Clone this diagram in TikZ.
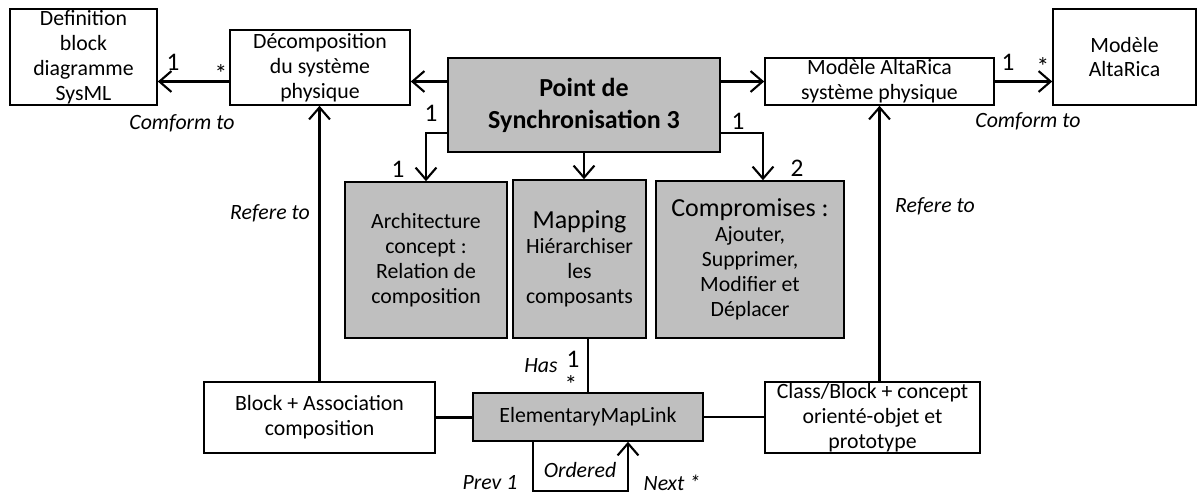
\documentclass[tikz,border=0pt]{standalone}
\usepackage{fontspec}
\setmainfont{Carlito}
\usepackage{xcolor}
\usetikzlibrary{arrows.meta,positioning,shadows}
\definecolor{boxgray}{HTML}{BFBFBF}

\begin{document}
\begin{tikzpicture}[
  x=0.025cm, y=-0.025cm,
  box/.style={rectangle, draw, line width=1.1pt, fill=white, inner sep=0pt, align=center,
    font=\fontsize{15.5}{17.7}\selectfont, drop shadow={shadow xshift=1pt, shadow yshift=-1pt, opacity=0.35}},
  gbox/.style={box, fill=boxgray},
  arrow/.style={-{Straight Barb[length=3mm, width=5.2mm]}, line width=1.5pt},
  link/.style={line width=1.5pt},
  card/.style={font=\fontsize{18}{20}\selectfont, inner sep=0pt},
  star/.style={font=\fontsize{18}{20}\selectfont, inner sep=0pt},
  role/.style={font=\itshape\fontsize{15.5}{18}\selectfont, inner sep=0pt}
]
  \useasboundingbox (0,0) rectangle (1199,495);

  % top row
  \node[box, minimum width=3.675cm, minimum height=2.4cm] (sysml) at (83.5,57) {Definition\\block\\diagramme\\SysML};
  \node[box, minimum width=4.5cm, minimum height=1.875cm] (decomp) at (320,67.5) {Décomposition\\du système\\physique};
  \node[gbox, minimum width=6.8cm, minimum height=2.35cm, font=\bfseries\fontsize{18.5}{22.7}\selectfont] (sync) at (584,105) {Point de\\Synchronisation 3};
  \node[box, minimum width=5.725cm, minimum height=1.175cm] (altaphys) at (879.5,81.5) {Modèle AltaRica\\système physique};
  \node[box, minimum width=3.575cm, minimum height=2.4cm] (altarica) at (1124.5,57) {Modèle\\AltaRica};

  % middle row
  \node[gbox, minimum width=4.05cm, minimum height=3.9cm] (archi) at (426,260) {Architecture\\concept :\\Relation de\\composition};
  \node[gbox, minimum width=3.325cm, minimum height=3.95cm] (mapping) at (579.5,259) {{\fontsize{18.5}{21}\selectfont Mapping}\\Hiérarchiser\\les\\composants};
  \node[gbox, minimum width=4.7cm, minimum height=3.925cm] (compro) at (750,259.5) {{\fontsize{18.5}{21}\selectfont Compromises :}\\Ajouter,\\Supprimer,\\Modifier et\\Déplacer};

  % bottom row
  \node[box, minimum width=5.775cm, minimum height=1.775cm] (blockassoc) at (319.5,417.5) {Block + Association\\composition};
  \node[gbox, minimum width=5.75cm, minimum height=1.2cm] (eml) at (588,417) {ElementaryMapLink};
  \node[box, minimum width=5.375cm, minimum height=1.775cm] (classblock) at (872.5,417.5) {Class/Block + concept\\orienté-objet et\\prototype};

  % connectors
  \draw[arrow] (decomp.west |- altaphys) -- (sysml.east |- altaphys);
  \draw[arrow] (sync.west |- altaphys) -- (decomp.east |- altaphys);
  \draw[arrow] (sync.east |- altaphys) -- (altaphys.west);
  \draw[arrow] (altaphys.east) -- (altarica.west |- altaphys);
  \draw[arrow] ([yshift=0.5cm]sync.south west) -| (archi.north);
  \draw[arrow] ([yshift=0.5cm]sync.south east) -| ([xshift=0.325cm]compro.north);
  \draw[arrow] (sync.south) -- (sync.south |- mapping.north);
  \draw[link] (eml.north |- mapping.south) -- (eml.north);
  \draw[link] (blockassoc.east) -- (eml.west |- blockassoc.east);
  \draw[link] (eml.east) -- (classblock.west |- eml.east);
  \draw[arrow] (blockassoc.north) -- (blockassoc.north |- decomp.south);
  \draw[arrow] (altaphys.south |- classblock.north) -- (altaphys.south);

  % self loop
  \coordinate (prev) at (533,491);
  \coordinate (next) at (628,491);
  \draw[arrow] (prev |- eml.south) -- (prev) -- (next) -- (next |- eml.south);

  % labels
  \node[card] (c1) at (173,62) {1};
  \node[star] (s1) at (221,74) {*};
  \node[role] (conf1) at (182,123) {Comform to};
  \node[card] (c2) at (1008,62) {1};
  \node[star] (s2) at (1043,67) {*};
  \node[role] (conf2) at (1028,121) {Comform to};
  \node[card] (c3) at (431,113) {1};
  \node[card] (c4) at (398,169) {1};
  \node[card] (c5) at (738,121) {1};
  \node[card] (c6) at (797,168) {2};
  \node[role] (ref1) at (270,213) {Refere to};
  \node[role] (ref2) at (935,206) {Refere to};
  \node[role] (has) at (541,366) {Has};
  \node[card] (c7) at (573,359) {1};
  \node[star] (s3) at (571,385) {*};
  \node[role] (ordered) at (580,470) {Ordered};
  \node[role] (prevlbl) at (490,483) {Prev 1};
  \node[role] (nextlbl) at (672,483) {Next *};
\end{tikzpicture}
\end{document}
